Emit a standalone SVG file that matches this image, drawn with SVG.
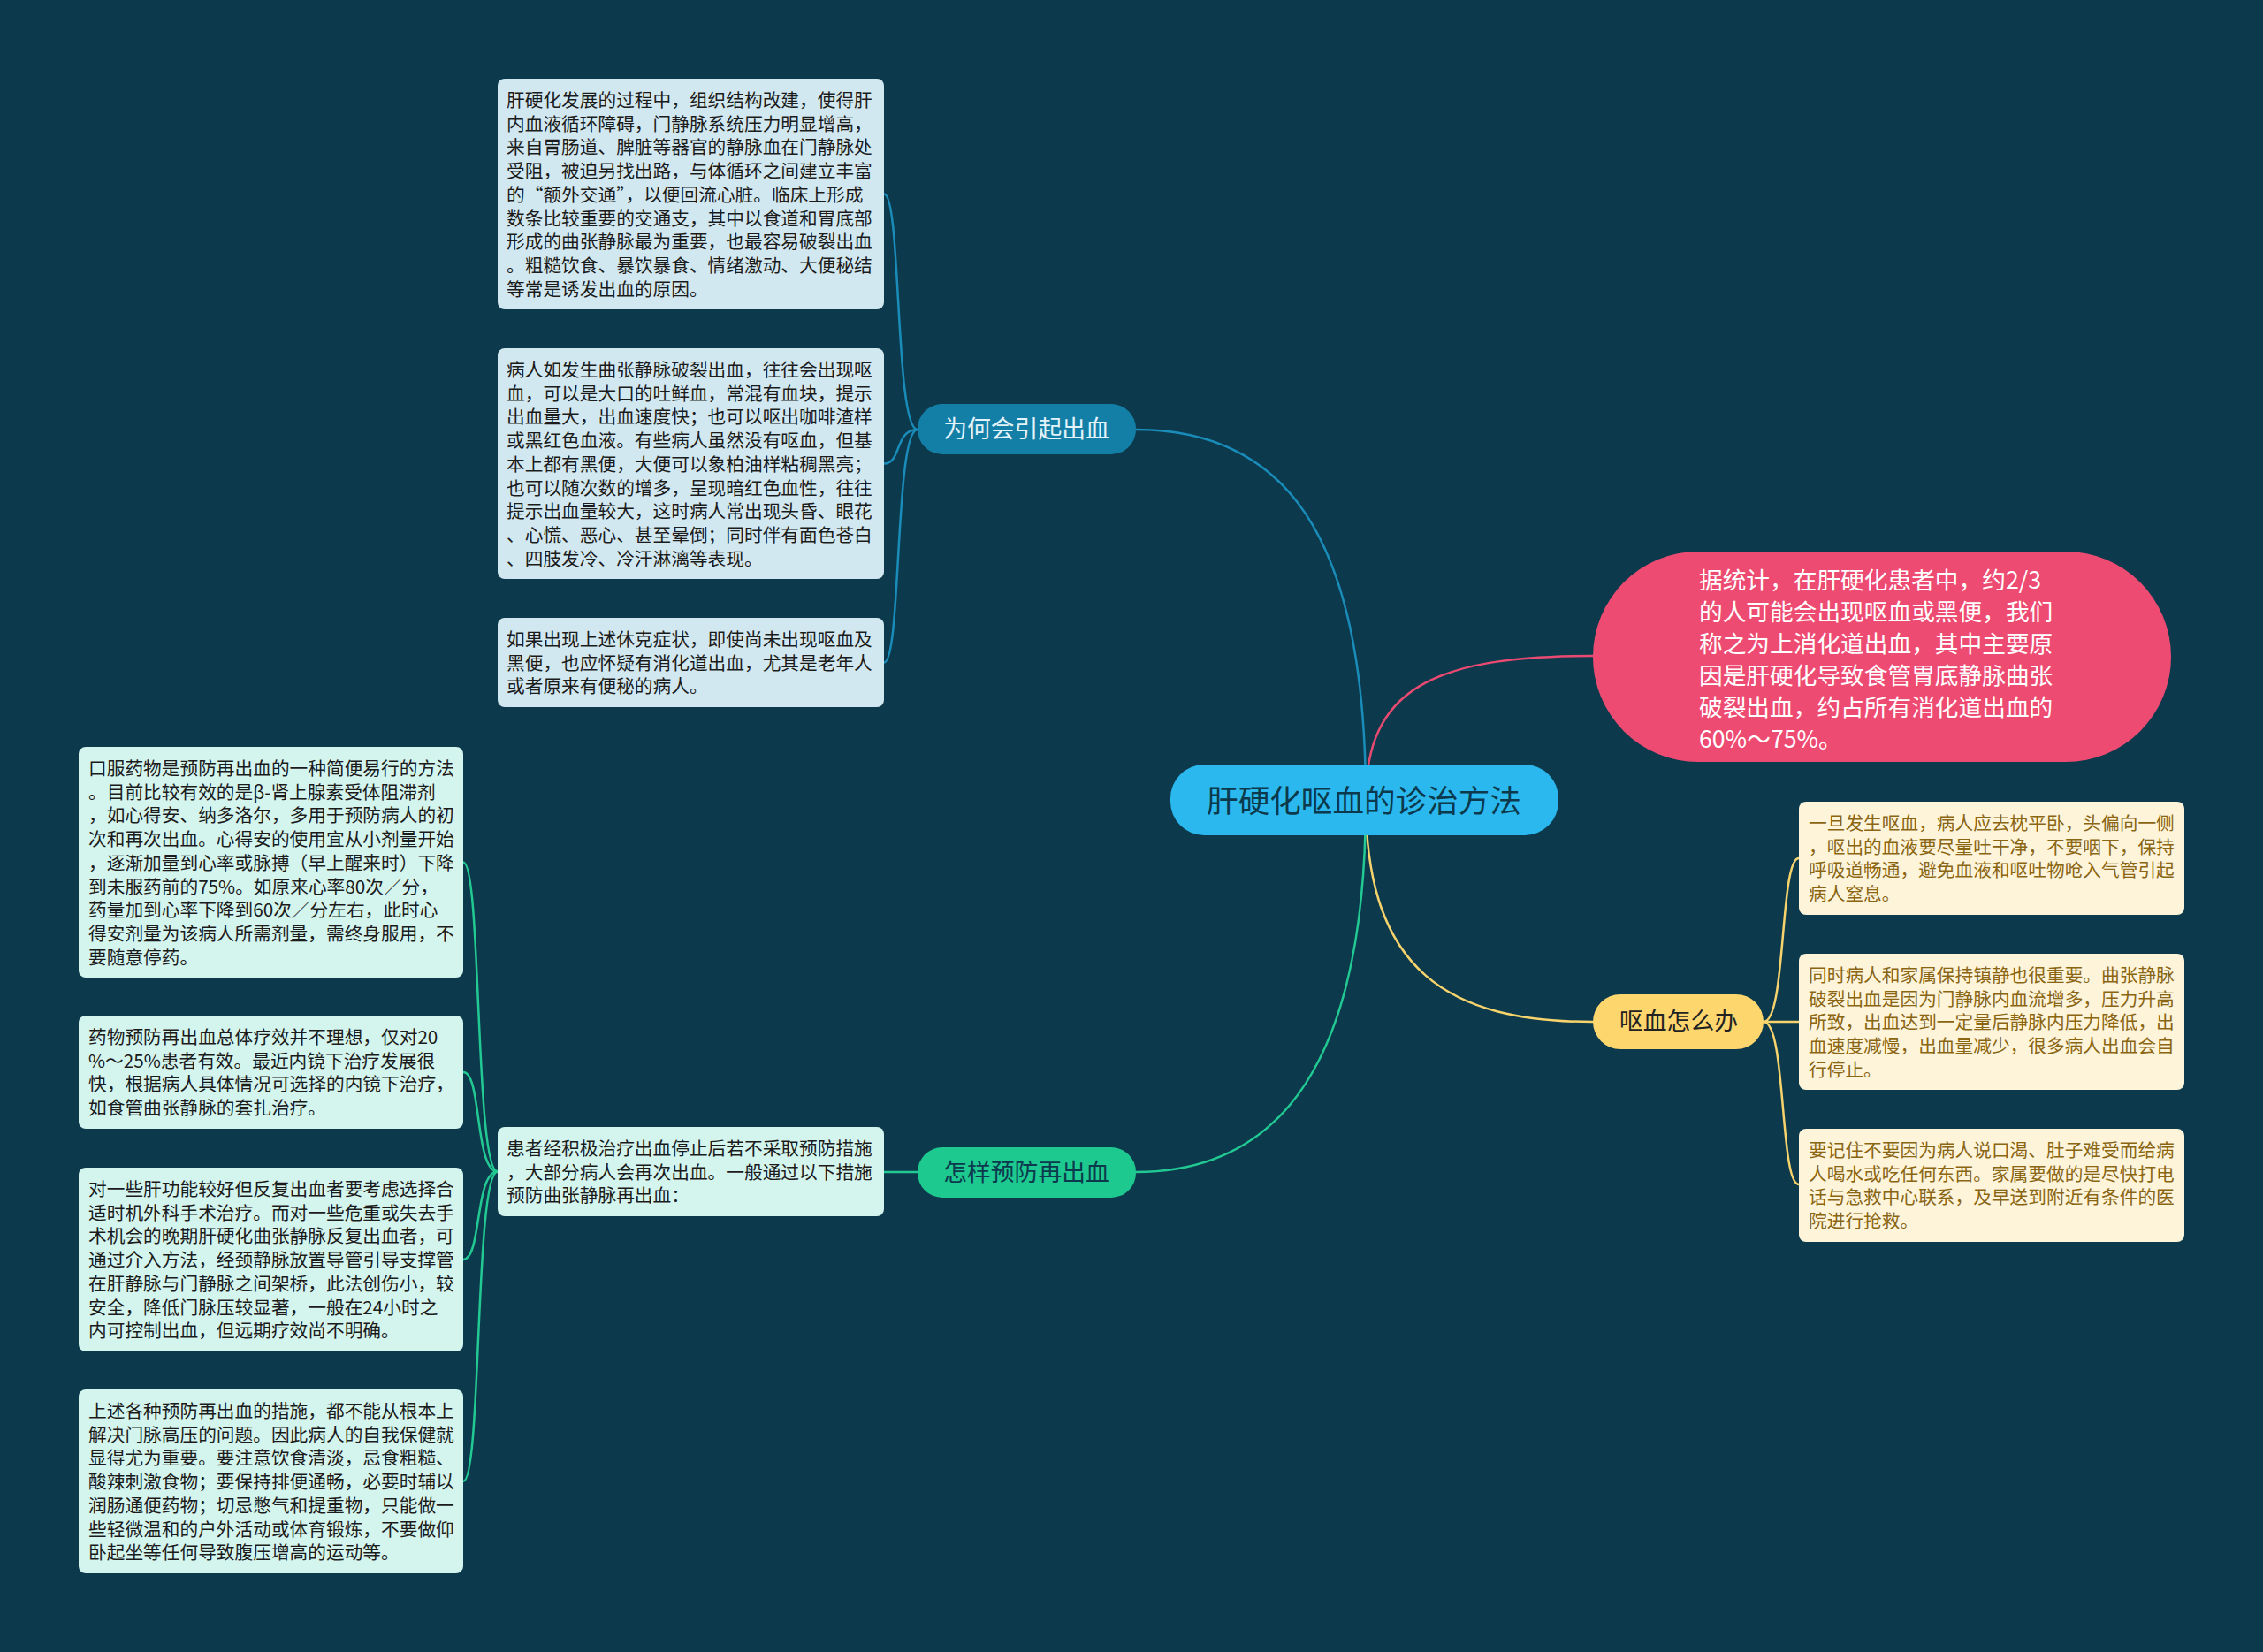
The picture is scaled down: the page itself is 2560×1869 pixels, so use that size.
<svg xmlns="http://www.w3.org/2000/svg" width="2560" height="1869" viewBox="0 0 2560 1869">
<style>
text{font-family:"Noto Sans CJK SC","Noto Sans",sans-serif}
.t{font-size:20.7px}
.bb{fill:#d2e8f0}
.gb{fill:#d4f4ee}
.yb{fill:#fdf4da}
.dk{fill:#1b1b1b}
.yt{fill:#8a6512}
.c{fill:none;stroke-linecap:round}
.cb{stroke:#1a8cba;stroke-width:2.5}
.cg{stroke:#22c993;stroke-width:2.5}
.cy{stroke:#f6d36c;stroke-width:2.5}
.cp{stroke:#e94a72;stroke-width:2.5}
.br{font-size:26.8px}
</style>
<rect width="2560" height="1869" fill="#0c3a4c"/>
<g id="connectors">
<path class="c cb" d="M1545,905 C1545,600 1450,486 1285,486"/>
<path class="c cp" d="M1545,905 C1545,780 1620,742 1802,742"/>
<path class="c cy" d="M1545,905 C1545,1100 1640,1156 1802,1156"/>
<path class="c cg" d="M1545,905 C1545,1200 1450,1326 1285,1326"/>
<path class="c cb" d="M1038,486 C1012,486 1020,219.5 1000,219.5"/>
<path class="c cb" d="M1038,486 C1012,486 1020,524.5 1000,524.5"/>
<path class="c cb" d="M1038,486 C1012,486 1020,749.5 1000,749.5"/>
<path class="c cg" d="M1038,1326 L1000,1326"/>
<path class="c cg" d="M563,1325.5 C537,1325.5 545,975.5 524,975.5"/>
<path class="c cg" d="M563,1325.5 C537,1325.5 545,1213 524,1213"/>
<path class="c cg" d="M563,1325.5 C537,1325.5 545,1425 524,1425"/>
<path class="c cg" d="M563,1325.5 C537,1325.5 545,1676 524,1676"/>
<path class="c cy" d="M1995,1156 C2021,1156 2013,971 2035,971"/>
<path class="c cy" d="M1995,1156 C2021,1156 2013,1156 2035,1156"/>
<path class="c cy" d="M1995,1156 C2021,1156 2013,1340 2035,1340"/>
</g>
<g id="root">
<rect x="1324" y="865" width="439" height="80" rx="38" fill="#2bb8ee"/>
<text x="1543" y="919" text-anchor="middle" font-size="35.6" fill="#0c3a4c">肝硬化呕血的诊治方法</text>
</g>
<g id="branch-why">
<rect x="1038" y="457" width="247" height="57" rx="28" fill="#137fa6"/>
<text class="br" x="1161" y="495" text-anchor="middle" fill="#e3f3fa">为何会引起出血</text>
</g>
<g id="branch-prevent">
<rect x="1038" y="1298" width="247" height="57" rx="28" fill="#1ec990"/>
<text class="br" x="1161" y="1336" text-anchor="middle" fill="#0c3a4c">怎样预防再出血</text>
</g>
<g id="branch-what">
<rect x="1802" y="1125" width="193" height="62" rx="31" fill="#fdd66e"/>
<text class="br" x="1899" y="1165" text-anchor="middle" fill="#222">呕血怎么办</text>
</g>
<g id="stat">
<rect x="1802" y="624" width="654" height="238" rx="119" fill="#ee4b73"/>
<text font-size="26.7" fill="#ffffff">
<tspan x="1922" y="666">据统计，在肝硬化患者中，约2/3</tspan>
<tspan x="1922" y="702">的人可能会出现呕血或黑便，我们</tspan>
<tspan x="1922" y="738">称之为上消化道出血，其中主要原</tspan>
<tspan x="1922" y="774">因是肝硬化导致食管胃底静脉曲张</tspan>
<tspan x="1922" y="810">破裂出血，约占所有消化道出血的</tspan>
<tspan x="1922" y="846">60%～75%。</tspan>
</text>
</g>
<g id="why-1">
<rect class="bb" x="563" y="89" width="437" height="261" rx="8"/>
<text class="t dk">
<tspan x="573" y="121">肝硬化发展的过程中，组织结构改建，使得肝</tspan>
<tspan x="573" dy="26.7">内血液循环障碍，门静脉系统压力明显增高，</tspan>
<tspan x="573" dy="26.7">来自胃肠道、脾脏等器官的静脉血在门静脉处</tspan>
<tspan x="573" dy="26.7">受阻，被迫另找出路，与体循环之间建立丰富</tspan>
<tspan x="573" dy="26.7">的“额外交通”，以便回流心脏。临床上形成</tspan>
<tspan x="573" dy="26.7">数条比较重要的交通支，其中以食道和胃底部</tspan>
<tspan x="573" dy="26.7">形成的曲张静脉最为重要，也最容易破裂出血</tspan>
<tspan x="573" dy="26.7">。粗糙饮食、暴饮暴食、情绪激动、大便秘结</tspan>
<tspan x="573" dy="26.7">等常是诱发出血的原因。</tspan>
</text>
</g>
<g id="why-2">
<rect class="bb" x="563" y="394" width="437" height="261" rx="8"/>
<text class="t dk">
<tspan x="573" y="426">病人如发生曲张静脉破裂出血，往往会出现呕</tspan>
<tspan x="573" dy="26.7">血，可以是大口的吐鲜血，常混有血块，提示</tspan>
<tspan x="573" dy="26.7">出血量大，出血速度快；也可以呕出咖啡渣样</tspan>
<tspan x="573" dy="26.7">或黑红色血液。有些病人虽然没有呕血，但基</tspan>
<tspan x="573" dy="26.7">本上都有黑便，大便可以象柏油样粘稠黑亮；</tspan>
<tspan x="573" dy="26.7">也可以随次数的增多，呈现暗红色血性，往往</tspan>
<tspan x="573" dy="26.7">提示出血量较大，这时病人常出现头昏、眼花</tspan>
<tspan x="573" dy="26.7">、心慌、恶心、甚至晕倒；同时伴有面色苍白</tspan>
<tspan x="573" dy="26.7">、四肢发冷、冷汗淋漓等表现。</tspan>
</text>
</g>
<g id="why-3">
<rect class="bb" x="563" y="699" width="437" height="101" rx="8"/>
<text class="t dk">
<tspan x="573" y="731">如果出现上述休克症状，即使尚未出现呕血及</tspan>
<tspan x="573" dy="26.7">黑便，也应怀疑有消化道出血，尤其是老年人</tspan>
<tspan x="573" dy="26.7">或者原来有便秘的病人。</tspan>
</text>
</g>
<g id="prevent-main">
<rect class="gb" x="563" y="1275" width="437" height="101" rx="8"/>
<text class="t dk">
<tspan x="573" y="1307">患者经积极治疗出血停止后若不采取预防措施</tspan>
<tspan x="573" dy="26.7">，大部分病人会再次出血。一般通过以下措施</tspan>
<tspan x="573" dy="26.7">预防曲张静脉再出血：</tspan>
</text>
</g>
<g id="prevent-1">
<rect class="gb" x="89" y="845" width="435" height="261" rx="8"/>
<text class="t dk">
<tspan x="100" y="877">口服药物是预防再出血的一种简便易行的方法</tspan>
<tspan x="100" dy="26.7">。目前比较有效的是β-肾上腺素受体阻滞剂</tspan>
<tspan x="100" dy="26.7">，如心得安、纳多洛尔，多用于预防病人的初</tspan>
<tspan x="100" dy="26.7">次和再次出血。心得安的使用宜从小剂量开始</tspan>
<tspan x="100" dy="26.7">，逐渐加量到心率或脉搏（早上醒来时）下降</tspan>
<tspan x="100" dy="26.7">到未服药前的75%。如原来心率80次／分，</tspan>
<tspan x="100" dy="26.7">药量加到心率下降到60次／分左右，此时心</tspan>
<tspan x="100" dy="26.7">得安剂量为该病人所需剂量，需终身服用，不</tspan>
<tspan x="100" dy="26.7">要随意停药。</tspan>
</text>
</g>
<g id="prevent-2">
<rect class="gb" x="89" y="1149" width="435" height="128" rx="8"/>
<text class="t dk">
<tspan x="100" y="1181">药物预防再出血总体疗效并不理想，仅对20</tspan>
<tspan x="100" dy="26.7">%～25%患者有效。最近内镜下治疗发展很</tspan>
<tspan x="100" dy="26.7">快，根据病人具体情况可选择的内镜下治疗，</tspan>
<tspan x="100" dy="26.7">如食管曲张静脉的套扎治疗。</tspan>
</text>
</g>
<g id="prevent-3">
<rect class="gb" x="89" y="1321" width="435" height="208" rx="8"/>
<text class="t dk">
<tspan x="100" y="1353">对一些肝功能较好但反复出血者要考虑选择合</tspan>
<tspan x="100" dy="26.7">适时机外科手术治疗。而对一些危重或失去手</tspan>
<tspan x="100" dy="26.7">术机会的晚期肝硬化曲张静脉反复出血者，可</tspan>
<tspan x="100" dy="26.7">通过介入方法，经颈静脉放置导管引导支撑管</tspan>
<tspan x="100" dy="26.7">在肝静脉与门静脉之间架桥，此法创伤小，较</tspan>
<tspan x="100" dy="26.7">安全，降低门脉压较显著，一般在24小时之</tspan>
<tspan x="100" dy="26.7">内可控制出血，但远期疗效尚不明确。</tspan>
</text>
</g>
<g id="prevent-4">
<rect class="gb" x="89" y="1572" width="435" height="208" rx="8"/>
<text class="t dk">
<tspan x="100" y="1604">上述各种预防再出血的措施，都不能从根本上</tspan>
<tspan x="100" dy="26.7">解决门脉高压的问题。因此病人的自我保健就</tspan>
<tspan x="100" dy="26.7">显得尤为重要。要注意饮食清淡，忌食粗糙、</tspan>
<tspan x="100" dy="26.7">酸辣刺激食物；要保持排便通畅，必要时辅以</tspan>
<tspan x="100" dy="26.7">润肠通便药物；切忌憋气和提重物，只能做一</tspan>
<tspan x="100" dy="26.7">些轻微温和的户外活动或体育锻炼，不要做仰</tspan>
<tspan x="100" dy="26.7">卧起坐等任何导致腹压增高的运动等。</tspan>
</text>
</g>
<g id="what-1">
<rect class="yb" x="2035" y="907" width="436" height="128" rx="8"/>
<text class="t yt">
<tspan x="2046" y="939">一旦发生呕血，病人应去枕平卧，头偏向一侧</tspan>
<tspan x="2046" dy="26.7">，呕出的血液要尽量吐干净，不要咽下，保持</tspan>
<tspan x="2046" dy="26.7">呼吸道畅通，避免血液和呕吐物呛入气管引起</tspan>
<tspan x="2046" dy="26.7">病人窒息。</tspan>
</text>
</g>
<g id="what-2">
<rect class="yb" x="2035" y="1079" width="436" height="154" rx="8"/>
<text class="t yt">
<tspan x="2046" y="1111">同时病人和家属保持镇静也很重要。曲张静脉</tspan>
<tspan x="2046" dy="26.7">破裂出血是因为门静脉内血流增多，压力升高</tspan>
<tspan x="2046" dy="26.7">所致，出血达到一定量后静脉内压力降低，出</tspan>
<tspan x="2046" dy="26.7">血速度减慢，出血量减少，很多病人出血会自</tspan>
<tspan x="2046" dy="26.7">行停止。</tspan>
</text>
</g>
<g id="what-3">
<rect class="yb" x="2035" y="1277" width="436" height="128" rx="8"/>
<text class="t yt">
<tspan x="2046" y="1309">要记住不要因为病人说口渴、肚子难受而给病</tspan>
<tspan x="2046" dy="26.7">人喝水或吃任何东西。家属要做的是尽快打电</tspan>
<tspan x="2046" dy="26.7">话与急救中心联系，及早送到附近有条件的医</tspan>
<tspan x="2046" dy="26.7">院进行抢救。</tspan>
</text>
</g>
</svg>
